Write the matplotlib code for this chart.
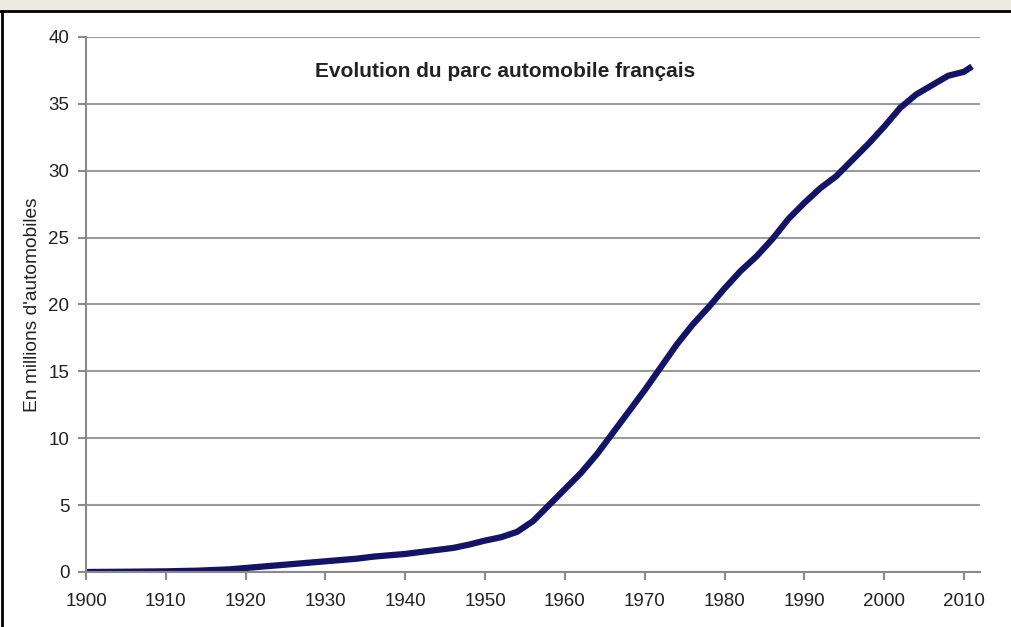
import numpy as np
import matplotlib
matplotlib.use("Agg")
from matplotlib import pyplot as plt
from matplotlib.patches import Rectangle
from matplotlib.lines import Line2D

plt.rcParams["font.family"] = ["Liberation Sans", "DejaVu Sans"]

# parc automobile (millions)
years = [1900, 1905, 1910, 1914, 1916, 1918, 1920, 1922, 1924, 1926, 1928,
         1930, 1932, 1934, 1936, 1938, 1940, 1942, 1944, 1946, 1948, 1950,
         1952, 1954, 1956, 1958, 1960, 1962, 1964, 1966, 1968, 1970, 1972,
         1974, 1976, 1978, 1980, 1982, 1984, 1986, 1988, 1990, 1992, 1994,
         1996, 1998, 2000, 2002, 2004, 2006, 2008, 2010, 2011]
cars = [0.0, 0.02, 0.05, 0.1, 0.15, 0.2, 0.3, 0.4, 0.5, 0.6, 0.7,
        0.8, 0.9, 1.0, 1.15, 1.25, 1.35, 1.5, 1.65, 1.8, 2.05, 2.35,
        2.6, 3.0, 3.8, 5.0, 6.2, 7.4, 8.8, 10.4, 12.0, 13.6, 15.3,
        17.0, 18.5, 19.8, 21.2, 22.5, 23.6, 24.9, 26.4, 27.6, 28.7, 29.6,
        30.8, 32.0, 33.3, 34.7, 35.7, 36.4, 37.1, 37.4, 37.8]

xticks = np.arange(1900, 2011, 10)
yticks = np.arange(0, 41, 5)

fig = plt.figure(figsize=(10.11, 6.27), dpi=100)
fig.patch.set_facecolor("white")

# beige band and black frame like the screenshot
fig.patches.append(Rectangle((0, 617/627), 1, 10/627, transform=fig.transFigure,
                             facecolor="#ECEBE0", edgecolor="none", zorder=0))
fig.lines.append(Line2D([0, 1], [616/627, 616/627], transform=fig.transFigure,
                        color="black", lw=2))
fig.lines.append(Line2D([1.5/1011, 1.5/1011], [0, 616/627], transform=fig.transFigure,
                        color="black", lw=2))

ax = fig.add_axes([86/1011, 55/627, 894/1011, 535/627])
ax.plot(years, cars, color="#141466", lw=4.5, solid_capstyle="butt")

ax.set_xlim(1900, 2012)
ax.set_ylim(0, 40)
ax.set_xticks(xticks)
ax.set_yticks(yticks)
ax.grid(axis="y", color="#9a9a9a", lw=1.5)
ax.set_axisbelow(True)

for s in ["top", "right"]:
    ax.spines[s].set_visible(False)
for s in ["left", "bottom"]:
    ax.spines[s].set_color("#8a8a8a")
    ax.spines[s].set_linewidth(1.5)

ax.tick_params(colors="#8a8a8a", length=6, width=1.5, labelsize=13.5,
               labelcolor="#222222")
ax.tick_params(axis="y", pad=6)
ax.tick_params(axis="x", pad=9)

ax.set_ylabel("En millions d'automobiles", fontsize=13.8, color="#222222", labelpad=5)
ax.text(0.469, 0.935, "Evolution du parc automobile français", transform=ax.transAxes,
        fontsize=15, fontweight="semibold", color="#222222", ha="center", va="center")

fig.savefig("out.png", dpi=100)
